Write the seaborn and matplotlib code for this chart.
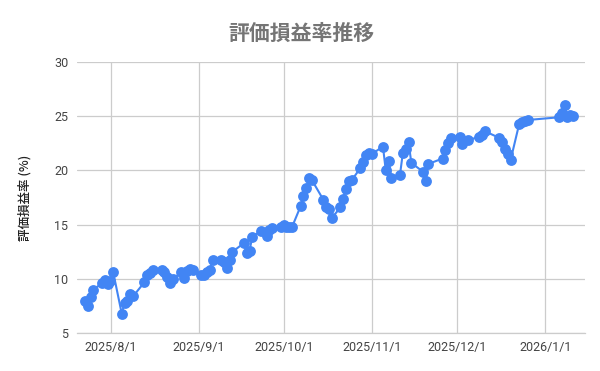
import matplotlib
matplotlib.use("Agg")
import matplotlib.pyplot as plt
import seaborn as sns
import pandas as pd
import numpy as np

dates = [
    "2025-07-22", "2025-07-23", "2025-07-24", "2025-07-25", "2025-07-28", "2025-07-29", "2025-07-30", "2025-07-31",
    "2025-08-01", "2025-08-04", "2025-08-05", "2025-08-06", "2025-08-07", "2025-08-08",
    "2025-08-12", "2025-08-13", "2025-08-14", "2025-08-15", "2025-08-18", "2025-08-19", "2025-08-20", "2025-08-21",
    "2025-08-22", "2025-08-25", "2025-08-26", "2025-08-27", "2025-08-28", "2025-08-29",
    "2025-09-01", "2025-09-02", "2025-09-03", "2025-09-04", "2025-09-05", "2025-09-08", "2025-09-09", "2025-09-10",
    "2025-09-11", "2025-09-12", "2025-09-16", "2025-09-17", "2025-09-18", "2025-09-19", "2025-09-22", "2025-09-24",
    "2025-09-25", "2025-09-26", "2025-09-29", "2025-09-30",
    "2025-10-01", "2025-10-02", "2025-10-03", "2025-10-06", "2025-10-07", "2025-10-08", "2025-10-09", "2025-10-10",
    "2025-10-14", "2025-10-15", "2025-10-16", "2025-10-17", "2025-10-20", "2025-10-21", "2025-10-22", "2025-10-23",
    "2025-10-24", "2025-10-27", "2025-10-28", "2025-10-29", "2025-10-30", "2025-10-31",
    "2025-11-04", "2025-11-05", "2025-11-06", "2025-11-07", "2025-11-10", "2025-11-11", "2025-11-12", "2025-11-13",
    "2025-11-14", "2025-11-18", "2025-11-19", "2025-11-20", "2025-11-25", "2025-11-26", "2025-11-27", "2025-11-28",
    "2025-12-01", "2025-12-02", "2025-12-04", "2025-12-08", "2025-12-09", "2025-12-10",
    "2025-12-15", "2025-12-16", "2025-12-17", "2025-12-18", "2025-12-19", "2025-12-22", "2025-12-23", "2025-12-24",
    "2025-12-25",
    "2026-01-05", "2026-01-06", "2026-01-07", "2026-01-08", "2026-01-09", "2026-01-10",
]
record_time = "20:00"
values = [
    8.0, 7.5, 8.3, 9.0, 9.6, 9.9, 9.5, 9.8,
    10.6, 6.8, 7.8, 8.0, 8.6, 8.4,
    9.7, 10.4, 10.5, 10.8, 10.8, 10.6, 10.2, 9.6,
    10.0, 10.6, 10.1, 10.7, 10.9, 10.8,
    10.4, 10.4, 10.6, 10.8, 11.7, 11.7, 11.6, 11.0,
    11.7, 12.5, 13.3, 12.4, 12.6, 13.9, 14.4, 14.0,
    14.5, 14.7, 14.8, 15.0,
    14.8, 14.8, 14.8, 16.7, 17.6, 18.4, 19.3, 19.1,
    17.3, 16.6, 16.4, 15.6, 16.6, 17.4, 18.3, 19.0,
    19.1, 20.2, 20.8, 21.4, 21.6, 21.5,
    22.2, 20.0, 20.9, 19.3, 19.6, 21.6, 22.0, 22.6,
    20.7, 19.9, 19.0, 20.6, 21.1, 21.9, 22.5, 23.0,
    23.1, 22.4, 22.8, 23.1, 23.3, 23.6,
    23.0, 22.6, 22.0, 21.5, 21.0, 24.3, 24.45, 24.55,
    24.65,
    24.9, 25.3, 26.0, 24.9, 25.1, 25.0,
]

tick_dates = ["2025-08-01", "2025-09-01", "2025-10-01", "2025-11-01", "2025-12-01", "2026-01-01"]
tick_labels = ["2025/8/1", "2025/9/1", "2025/10/1", "2025/11/1", "2025/12/1", "2026/1/1"]
y_ticks = [5, 10, 15, 20, 25, 30]

title = "評価損益率推移"
ylabel = "評価損益率 (%)"

sns.set_theme(style="white")
plt.rcParams["font.family"] = ["Roboto", "Noto Sans CJK JP", "DejaVu Sans"]

df = pd.DataFrame({"date": pd.to_datetime([d + " " + record_time for d in dates]), "value": values})

fig = plt.figure(figsize=(6.0, 3.71), dpi=100)
ax = fig.add_axes([0.128, 0.102, 0.847, 0.731])

blue = "#4285F4"
sns.lineplot(data=df, x="date", y="value", ax=ax, color=blue, linewidth=1.5,
             marker="o", markersize=7.8, markeredgewidth=0, markerfacecolor=blue)

ax.set_ylim(5, 30)
ax.set_yticks(y_ticks)
ax.set_yticklabels([str(v) for v in y_ticks])
ax.set_xlim(pd.Timestamp("2025-07-20"), pd.Timestamp("2026-01-15"))
ax.set_xticks(pd.to_datetime(tick_dates))
ax.set_xticklabels(tick_labels)

ax.grid(True, color="#cccccc", linewidth=0.9)
ax.set_axisbelow(True)
for s in ["top", "right", "left"]:
    ax.spines[s].set_visible(False)
ax.spines["bottom"].set_color("#cccccc")
ax.spines["bottom"].set_linewidth(0.9)

ax.tick_params(axis="y", length=0, pad=6, labelsize=9, labelcolor="#444444")
ax.tick_params(axis="x", length=4, color="#cccccc", pad=2, labelsize=9, labelcolor="#444444")

ax.set_xlabel("")
ax.set_ylabel(ylabel, fontsize=9, color="#222222", family=["Noto Sans CJK JP", "DejaVu Sans"],
              fontweight="medium", labelpad=0)
ax.yaxis.set_label_coords(-0.09, 0.5)

fig.text(0.503, 0.91, title, ha="center", va="center", fontsize=15, fontweight="bold",
         color="#757575", family=["Noto Sans CJK JP", "DejaVu Sans"])

fig.savefig("out.png", dpi=100, facecolor="white")
